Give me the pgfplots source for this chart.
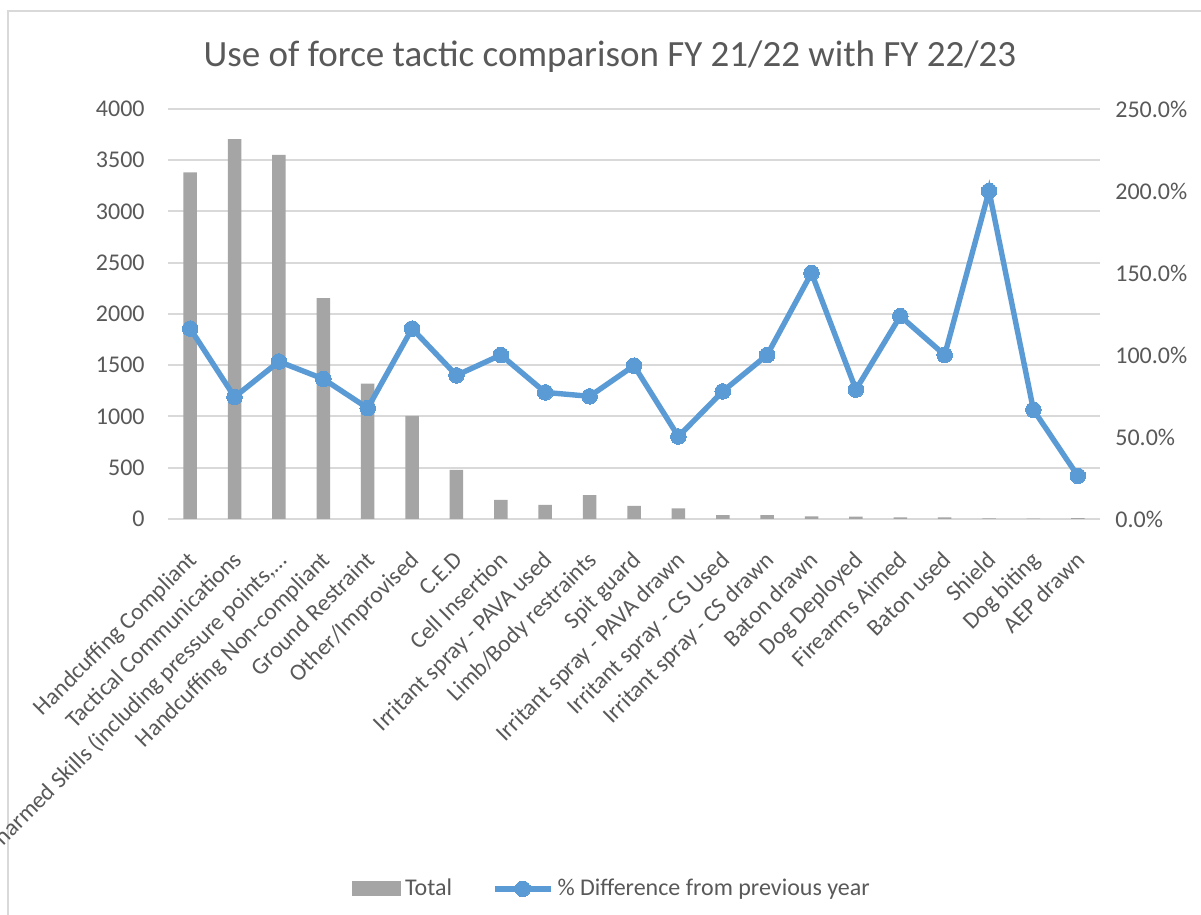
\documentclass[border=0pt]{standalone}
\usepackage{fontspec}
\setmainfont{Carlito}
\usepackage{pgfplots}
\usepackage{pgfplotstable}
\pgfplotsset{compat=1.18}

\definecolor{txt}{HTML}{595959}
\definecolor{barcol}{HTML}{A5A5A5}
\definecolor{linecol}{HTML}{5B9BD5}
\definecolor{gridcol}{HTML}{D9D9D9}

% Totals (left axis) and % difference from previous year (right axis)
\pgfplotstableread{
idx total pct
0  3381 116.1
1  3707 74.4
2  3553 96.0
3  2155 85.4
4  1320 67.6
5  1007 116.1
6  479  87.6
7  186  100.0
8  137  77.2
9  232  74.8
10 127  93.5
11 104  50.3
12 38   77.8
13 38   100.0
14 26   150.0
15 23   78.9
16 17   123.7
17 17   100.0
18 6    200.0
19 3    66.6
20 8    26.3
}\datatable

\newcommand{\tickfont}{\fontsize{12}{14}\selectfont}
\newcommand{\catfont}{\fontsize{11.8}{14}\selectfont}

\pgfplotsset{
  common/.style={
    scale only axis,
    width=466pt, height=205pt,
    at={(84pt,198pt)}, anchor=south west,
    xmin=-0.5, xmax=20.5,
    axis line style={draw=none},
    major tick length=0pt,
    tick style={draw=none},
    /pgf/number format/1000 sep={},
    /pgf/number format/assume math mode=true,
  }
}

\begin{document}
\begin{tikzpicture}[x=1pt,y=1pt]
\useasboundingbox (0,0) rectangle (600.5,457.5);
\clip (0,0) rectangle (600.5,457.5);
\fill[white] (0,0) rectangle (600.5,457.5);
\draw[gridcol, line width=0.9pt] (4,-2) -- (4,452) -- (605,452);

\node[font=\fontsize{18.5}{22}\selectfont, text=txt] at (305,429)
  {Use of force tactic comparison FY 21/22 with FY 22/23};

\begin{axis}[common,
  ymin=0, ymax=4000,
  ytick={0,500,...,4000},
  ymajorgrids,
  grid style={gridcol, line width=1pt},
  yticklabel style={font=\tickfont, text=txt, anchor=east, inner sep=0pt, xshift=-11.5pt},
  xtick=data,
  xticklabels={
    Handcuffing Compliant,
    Tactical Communications,
    {Unarmed Skills (including pressure points,…},
    Handcuffing Non-compliant,
    Ground Restraint,
    Other/Improvised,
    C.E.D,
    Cell Insertion,
    Irritant spray - PAVA used,
    Limb/Body restraints,
    Spit guard,
    Irritant spray - PAVA drawn,
    Irritant spray - CS Used,
    Irritant spray - CS drawn,
    Baton drawn,
    Dog Deployed,
    Firearms Aimed,
    Baton used,
    Shield,
    Dog biting,
    AEP drawn},
  xticklabel style={font=\catfont, text=txt, rotate=45, anchor=north east, inner sep=0pt, yshift=-9.5pt, xshift=-12pt},
  ybar, bar width=6.75pt,
]
\addplot[fill=barcol, draw=none] table[x=idx, y=total]{\datatable};
\end{axis}

\begin{axis}[common,
  ymin=0, ymax=250,
  ytick={0,50,...,250},
  xtick=\empty,
  yticklabel pos=right,
  yticklabel={\pgfmathprintnumber[fixed,fixed zerofill,precision=1]{\tick}\%},
  yticklabel style={font=\tickfont, text=txt, anchor=west, inner sep=0pt, xshift=7.5pt},
  legend style={at={(0.4775,-0.902)}, anchor=center, draw=none, fill=none,
    font=\tickfont, text=txt,
    /tikz/every even column/.append style={column sep=18pt}},
  legend columns=2,
]
\addlegendimage{legend image code/.code={\fill[barcol] (0pt,-3.5pt) rectangle (24pt,3.5pt);}}
\addlegendentry{Total}
\addplot[linecol, line width=2.7pt, mark=*, mark size=3.9pt,
  mark options={fill=linecol, draw=linecol, line width=0pt},
  legend image code/.code={\draw[mark repeat=2, mark phase=2] plot coordinates {(0pt,0pt) (14pt,0pt) (28pt,0pt)};}]
  table[x=idx, y=pct]{\datatable};
\addlegendentry{\% Difference from previous year}
\end{axis}
\end{tikzpicture}
\end{document}
